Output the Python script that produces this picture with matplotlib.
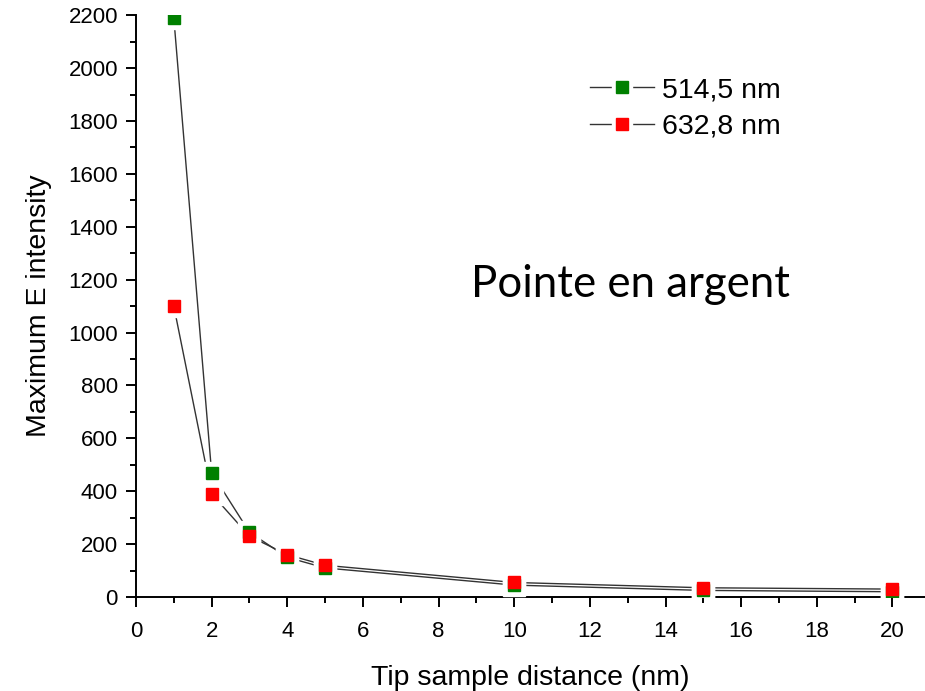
import matplotlib
matplotlib.use("Agg")
import matplotlib.pyplot as plt
from matplotlib.ticker import MultipleLocator
from matplotlib.lines import Line2D
from matplotlib.legend_handler import HandlerTuple

# tip-sample distance (nm)
distance = [1, 2, 3, 4, 5, 10, 15, 20]

# maximum E intensity for both wavelengths
green_514 = [2190, 470, 245, 150, 110, 45, 25, 20]
red_632 = [1100, 390, 230, 160, 120, 55, 35, 30]

labels = ["514,5 nm", "632,8 nm"]
colors = ["#008000", "#ff0000"]

plt.rcParams['font.family'] = ['Liberation Sans', 'DejaVu Sans']

fig = plt.figure(figsize=(9.25, 6.91), dpi=100)
ax = fig.add_axes([0.147, 0.136, 0.853, 0.842])

for ys, c in zip([green_514, red_632], colors):
    ax.plot(distance, ys, color="#333333", lw=1.0, zorder=2)
    # white halo gives the small gap between line and marker (Origin style)
    ax.plot(distance, ys, ls="none", marker="s", ms=16, mfc="white",
            mec="white", zorder=3)
    ax.plot(distance, ys, ls="none", marker="s", ms=9, mfc=c, mec=c, zorder=4)

# legend handles: line - gap - marker - gap - line
handles = []
for c in colors:
    ln = Line2D([0], [0], color="#333333", lw=1.0)
    halo = Line2D([0], [0], ls="none", marker="s", ms=14, mfc="white", mec="white")
    mk = Line2D([0], [0], ls="none", marker="s", ms=8, mfc=c, mec=c)
    handles.append((ln, halo, mk))
fig.legend(handles, labels, loc="upper left", bbox_to_anchor=(0.61, 0.925),
           frameon=False, fontsize=20.5, handlelength=2.25, handletextpad=0.3,
           labelspacing=0.36, handler_map={tuple: HandlerTuple(ndivide=1)})

ax.text(8.85, 1180, "Pointe en argent", fontsize=31.5, family=['Lato', 'DejaVu Sans'],
        va="center", ha="left")

ax.set_xlim(0, 20.86)
ax.set_ylim(0, 2200)
ax.xaxis.set_major_locator(MultipleLocator(2))
ax.xaxis.set_minor_locator(MultipleLocator(1))
ax.yaxis.set_major_locator(MultipleLocator(200))
ax.yaxis.set_minor_locator(MultipleLocator(100))

ax.spines["top"].set_visible(False)
ax.spines["right"].set_visible(False)
for s in ["left", "bottom"]:
    ax.spines[s].set_linewidth(1.4)
ax.tick_params(which="major", direction="out", length=7, width=1.4, labelsize=16)
ax.tick_params(axis="x", which="major", pad=10)
ax.tick_params(axis="y", which="major", pad=6)
ax.tick_params(which="minor", direction="out", length=4, width=1.4)

ax.set_xlabel("Tip sample distance (nm)", fontsize=20.5, labelpad=17)
ax.set_ylabel("Maximum E intensity", fontsize=20.5, labelpad=12)

fig.savefig("out.png", dpi=100)
